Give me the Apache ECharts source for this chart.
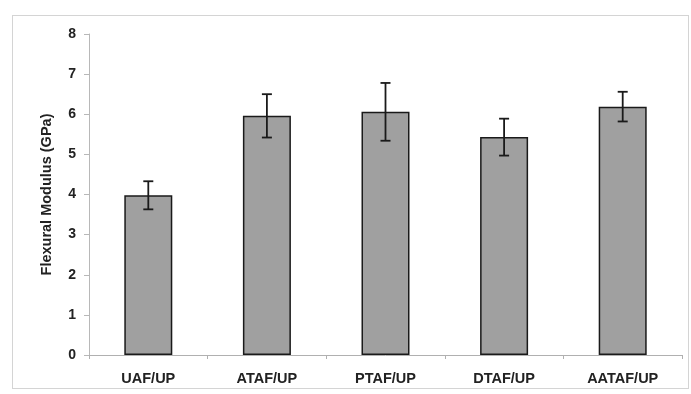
<!DOCTYPE html>
<html>
<head>
<meta charset="utf-8">
<script src="https://cdn.jsdelivr.net/npm/echarts@6/dist/echarts.min.js"></script>
<style>
html,body{margin:0;padding:0;background:#fff;}
#frame{position:absolute;left:12px;top:15px;width:677px;height:374px;border:1px solid #d4d4d4;box-sizing:border-box;}
#c{position:absolute;left:0;top:0;width:691px;height:394px;}
</style>
</head>
<body>
<div id="frame"></div>
<div id="c"></div>
<script>
const categories = ['UAF/UP', 'ATAF/UP', 'PTAF/UP', 'DTAF/UP', 'AATAF/UP'];
const modulus = [3.98, 5.96, 6.06, 5.43, 6.19];
const errors = [0.35, 0.54, 0.72, 0.46, 0.37];
const yTicks = [0, 1, 2, 3, 4, 5, 6, 7, 8];

const chart = echarts.init(document.getElementById('c'), null, {renderer: 'canvas'});
const errData = categories.map((c, i) => [i, modulus[i] - errors[i], modulus[i] + errors[i]]);
const font = 'Liberation Sans, Arial, sans-serif';

chart.setOption({
  animation: false,
  backgroundColor: 'transparent',
  grid: {left: 89, right: 9, top: 34, bottom: 39, containLabel: false},
  xAxis: {
    type: 'category',
    data: categories,
    axisLine: {show: true, lineStyle: {color: '#b0b0b0', width: 1}},
    axisTick: {show: true, alignWithLabel: false, length: 4, lineStyle: {color: '#b0b0b0'}},
    axisLabel: {color: '#222', fontWeight: 'bold', fontSize: 14.5, fontFamily: font, margin: 16}
  },
  yAxis: {
    type: 'value',
    min: yTicks[0],
    max: yTicks[yTicks.length - 1],
    interval: 1,
    name: 'Flexural Modulus (GPa)',
    nameLocation: 'middle',
    nameGap: 35,
    nameRotate: 90,
    nameTextStyle: {color: '#222', fontWeight: 'bold', fontSize: 14.5, fontFamily: font},
    axisLine: {show: true, lineStyle: {color: '#b8b8b8', width: 1}},
    axisTick: {show: true, length: 5, lineStyle: {color: '#b8b8b8'}},
    splitLine: {show: false},
    axisLabel: {color: '#222', fontWeight: 'bold', fontSize: 14, fontFamily: font, margin: 13}
  },
  series: [
    {
      type: 'bar',
      data: modulus,
      barWidth: 48,
      itemStyle: {color: '#a0a0a0', borderColor: '#1a1a1a', borderWidth: 1.5}
    },
    {
      type: 'custom',
      data: errData,
      z: 10,
      renderItem: function (params, api) {
        const x = api.value(0);
        const lo = api.coord([x, api.value(1)]);
        const hi = api.coord([x, api.value(2)]);
        const cap = 5;
        const style = {stroke: '#1a1a1a', lineWidth: 1.8};
        return {
          type: 'group',
          children: [
            {type: 'line', shape: {x1: lo[0], y1: lo[1], x2: hi[0], y2: hi[1]}, style: style},
            {type: 'line', shape: {x1: lo[0] - cap, y1: lo[1], x2: lo[0] + cap, y2: lo[1]}, style: style},
            {type: 'line', shape: {x1: hi[0] - cap, y1: hi[1], x2: hi[0] + cap, y2: hi[1]}, style: style}
          ]
        };
      }
    }
  ]
});
</script>
</body>
</html>
